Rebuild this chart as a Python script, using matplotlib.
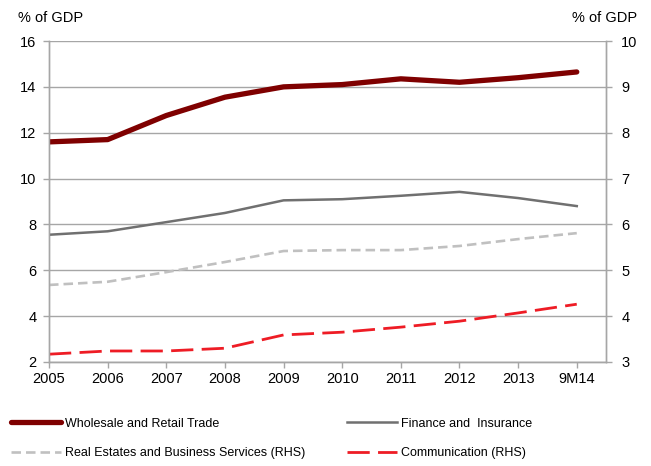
import matplotlib
matplotlib.use('Agg')
import matplotlib.pyplot as plt

plt.rcParams['font.family'] = ['Liberation Sans', 'DejaVu Sans']

# Sector shares, % of GDP
periods = ['2005', '2006', '2007', '2008', '2009', '2010', '2011', '2012', '2013', '9M14']
wholesale = [11.6, 11.7, 12.75, 13.55, 14.0, 14.1, 14.35, 14.2, 14.4, 14.65]
finance = [7.55, 7.7, 8.1, 8.5, 9.05, 9.1, 9.25, 9.42, 9.15, 8.8]
real_estate = [4.68, 4.75, 4.96, 5.18, 5.42, 5.44, 5.44, 5.53, 5.68, 5.81]   # RHS
communication = [3.17, 3.24, 3.24, 3.3, 3.59, 3.65, 3.76, 3.89, 4.07, 4.26]  # RHS

GRID = '#a6a6a6'

fig = plt.figure(figsize=(6.51, 4.66), dpi=100)
ax = fig.add_axes([0.0753, 0.2232, 0.8557, 0.6888])
ax2 = ax.twinx()

x = list(range(len(periods)))

l1, = ax.plot(x, wholesale, color='#7f0000', linewidth=3.8, solid_capstyle='round',
              label='Wholesale and Retail Trade', zorder=4)
l2, = ax.plot(x, finance, color='#707070', linewidth=1.8, label='Finance and  Insurance', zorder=3)
l3, = ax2.plot(x, real_estate, color='#c0c0c0', linewidth=1.9, dashes=(3.6, 1.9),
               label='Real Estates and Business Services (RHS)')
l4, = ax2.plot(x, communication, color='#ee1c25', linewidth=2.0, dashes=(8, 3),
               label='Communication (RHS)')

ax.set_xlim(0, 9.5)
ax.set_ylim(2, 16)
ax.set_yticks(range(2, 17, 2))
ax2.set_ylim(3, 10)
ax2.set_yticks(range(3, 11))
ax.set_xticks(x)
ax.set_xticklabels(periods)

ax.set_axisbelow(True)
ax.grid(axis='y', color=GRID, linewidth=1.0)

for a in (ax, ax2):
    a.spines['top'].set_visible(False)
    for side in ('left', 'right', 'bottom'):
        a.spines[side].set_color(GRID)
        a.spines[side].set_linewidth(1.0)
    a.tick_params(colors=GRID, labelcolor='black', labelsize=10.5, length=4, width=1.0)
ax.tick_params(axis='y', pad=5)
ax2.tick_params(axis='y', pad=7)
ax.tick_params(axis='x', pad=3)

fig.text(0.027, 0.962, '% of GDP', fontsize=10.5, ha='left', va='center')
fig.text(0.979, 0.962, '% of GDP', fontsize=10.5, ha='right', va='center')

fig.legend([l1, l3, l2, l4], [l1.get_label(), l3.get_label(), l2.get_label(), l4.get_label()],
           ncol=2, loc='upper left', bbox_to_anchor=(0.011, 0.1116), frameon=False,
           fontsize=9, handlelength=4.0, handletextpad=0.32, columnspacing=3.36,
           labelspacing=1.4, borderaxespad=0.0, borderpad=0.3)

fig.savefig('out.png', dpi=100)
